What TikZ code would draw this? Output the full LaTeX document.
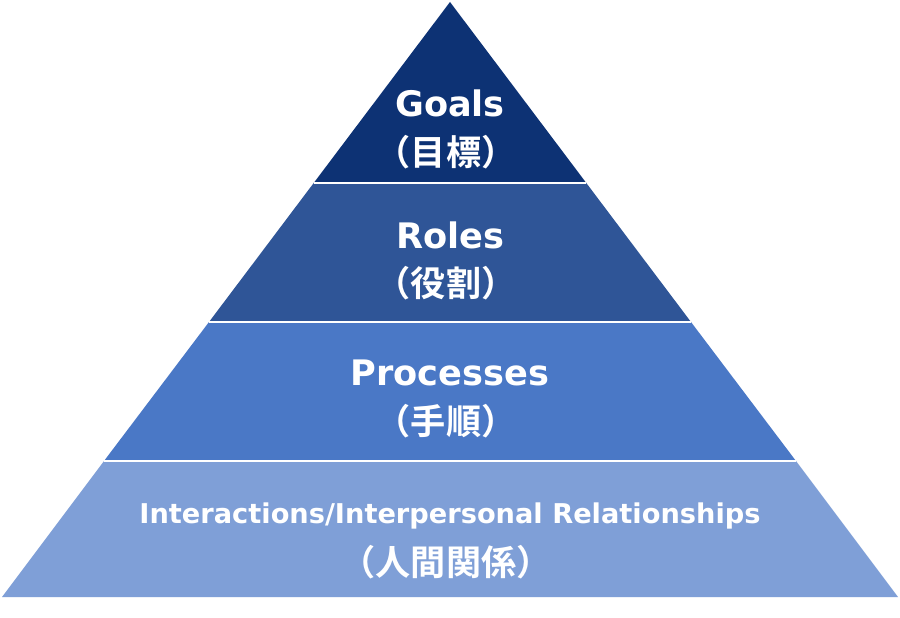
\documentclass[tikz,border=0pt]{standalone}
\usepackage{fontspec}
\setmainfont{DejaVu Sans}
\newfontfamily\cjk{Noto Sans CJK JP}[BoldFont={* Bold}]
\definecolor{cA}{HTML}{0D3274}
\definecolor{cB}{HTML}{2F5597}
\definecolor{cC}{HTML}{4A78C6}
\definecolor{cD}{HTML}{7F9FD7}
\begin{document}
\begin{tikzpicture}[x=0.02cm,y=-0.02cm,
 band/.style={draw=white,line width=1.2pt},
 lab/.style={text=white,font=\bfseries\fontsize{20}{22}\selectfont},
 jp/.style={text=white,font=\cjk\bfseries\fontsize{20}{22}\selectfont}]
\useasboundingbox (0,0) rectangle (900,618);
\fill[white] (0,0) rectangle (900,618);
\fill[cA] (450,2) -- (586.3,183) -- (313.7,183) -- cycle;
\fill[cB] (313.7,183) -- (586.3,183) -- (691,322) -- (209,322) -- cycle;
\fill[cC] (209,322) -- (691,322) -- (796,461) -- (104,461) -- cycle;
\fill[cD] (104,461) -- (796,461) -- (898,597) -- (2,597) -- cycle;
\draw[band] (313.7,183) -- (586.3,183);
\draw[band] (209,322) -- (691,322);
\draw[band] (104,461) -- (796,461);
\node[lab] (g) at (450,103) {Goals};
\node[jp] (gj) at (446,152) {（目標）};
\node[lab] (r) at (450,235) {Roles};
\node[jp] (rj) at (446,283) {（役割）};
\node[lab] (p) at (450,373) {Processes};
\node[jp] (pj) at (446,421) {（手順）};
\node[lab,font=\bfseries\fontsize{15.5}{18}\selectfont] (i) at (450,516) {Interactions/Interpersonal Relationships};
\node[jp] (ij) at (446,562) {（人間関係）};
\end{tikzpicture}
\end{document}
